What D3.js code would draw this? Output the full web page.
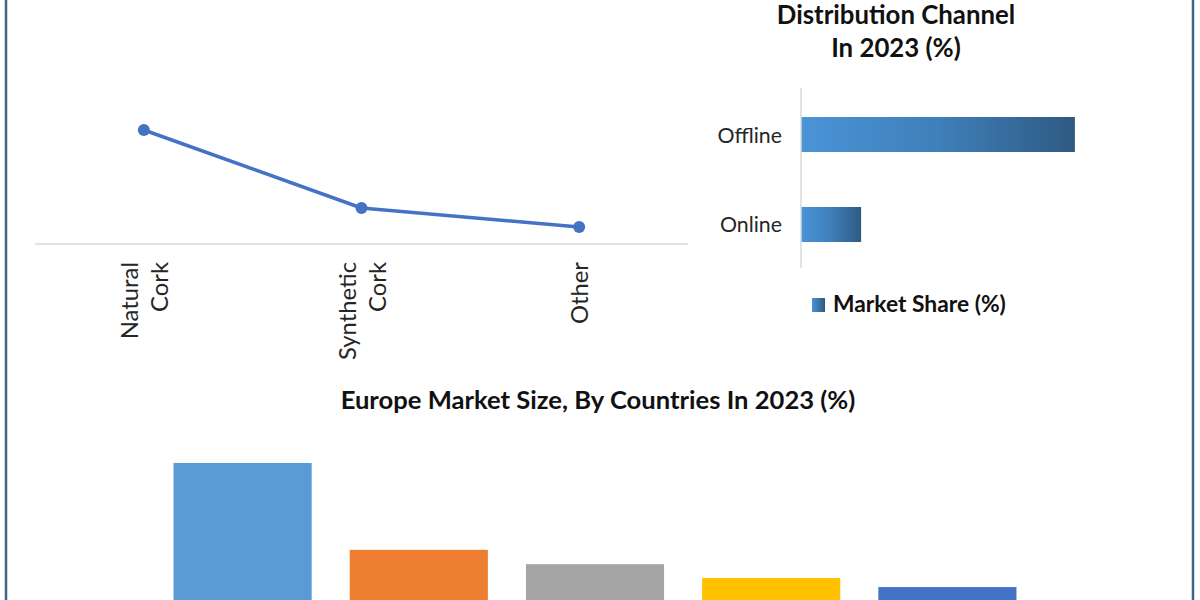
<!DOCTYPE html>
<html><head><meta charset="utf-8">
<script src="https://cdn.jsdelivr.net/npm/d3@7"></script>
<style>
html,body{margin:0;padding:0;background:#fff;overflow:hidden}
text{font-family:Lato,"Liberation Sans","DejaVu Sans",sans-serif}
</style></head><body>
<svg id="c" width="1200" height="600"></svg>
<script>
// ---- data ----
const corkTypes = ["Natural Cork", "Synthetic Cork", "Other"];
const corkValues = [57, 18, 8.5];

const channels = ["Offline", "Online"];
const channelShare = [82, 18];
const channelTitle = ["Distribution Channel", "In 2023 (%)"];
const channelLegend = "Market Share (%)";

const countries = ["Germany", "France", "UK", "Italy", "Spain"];
const countryShare = [35, 16.8, 13.8, 10.9, 9.0];
const countryColors = ["#5b9bd5", "#ed7d31", "#a5a5a5", "#ffc000", "#4472c4"];
const countryTitle = "Europe Market Size, By Countries In 2023 (%)";

const svg = d3.select("#c");

// frame
svg.append("rect").attr("x", 6).attr("y", -20).attr("width", 1187).attr("height", 660)
  .attr("fill", "none").attr("stroke", "#3b6888").attr("stroke-width", 2.5);

// ---- line chart ----
const lx = d3.scaleBand().domain(corkTypes).range([35, 688]);
const ly = d3.scaleLinear().domain([0, 60]).range([244, 124]);
const lg = svg.append("g");
lg.append("line").attr("x1", 35).attr("x2", 688).attr("y1", ly(0)).attr("y2", ly(0))
  .attr("stroke", "#d9d9d9").attr("stroke-width", 1.5);
const line = d3.line().x((d, i) => lx(corkTypes[i]) + lx.bandwidth() / 2).y(d => ly(d));
lg.append("path").datum(corkValues).attr("d", line).attr("fill", "none")
  .attr("stroke", "#4472c4").attr("stroke-width", 3.5).attr("stroke-linejoin", "round");
lg.selectAll("circle.pt").data(corkValues).join("circle")
  .attr("cx", (d, i) => lx(corkTypes[i]) + lx.bandwidth() / 2)
  .attr("cy", d => ly(d)).attr("r", 6).attr("fill", "#4472c4");
// rotated labels
corkTypes.forEach(c => {
  const words = c.split(" ");
  const cx = lx(c) + lx.bandwidth() / 2;
  const n = words.length;
  const t = lg.append("text")
    .attr("transform", `translate(${cx},262) rotate(-90)`)
    .attr("text-anchor", "end").attr("font-size", 23.8).attr("fill", "#262626");
  words.forEach((w, i) => {
    const off = (i - (n - 1) / 2) * 30 + 9;
    t.append("tspan").attr("x", 0).attr("y", off).text(w);
  });
});

// ---- horizontal bar chart ----
const hx = d3.scaleLinear().domain([0, 100]).range([801, 1135]);
const hy = d3.scaleBand().domain(channels).range([72, 287]).paddingInner(0.611).paddingOuter(0.5);
const defs = svg.append("defs");
const grad = defs.append("linearGradient").attr("id", "hg").attr("x1", "0").attr("x2", "1").attr("y1", "0").attr("y2", "0");
grad.append("stop").attr("offset", "0").attr("stop-color", "#4a94d6");
grad.append("stop").attr("offset", "0.5").attr("stop-color", "#3f7fba");
grad.append("stop").attr("offset", "1").attr("stop-color", "#2e5a82");
const hg = svg.append("g");
hg.append("text").attr("x", 896).attr("y", 24).attr("text-anchor", "middle")
  .attr("font-size", 25.8).attr("font-weight", "bold").attr("fill", "#111")
  .selectAll("tspan").data(channelTitle).join("tspan")
  .attr("x", 896).attr("dy", (d, i) => i ? 33 : 0).text(d => d);
hg.selectAll("rect.b").data(channelShare).join("rect")
  .attr("x", hx(0)).attr("y", (d, i) => hy(channels[i]))
  .attr("width", d => hx(d) - hx(0)).attr("height", hy.bandwidth())
  .attr("fill", "url(#hg)");
hg.append("line").attr("x1", 801).attr("x2", 801).attr("y1", 88).attr("y2", 268)
  .attr("stroke", "#d9d9d9").attr("stroke-width", 1.5);
hg.selectAll("text.lab").data(channels).join("text")
  .attr("x", 782).attr("y", d => hy(d) + hy.bandwidth() / 2 + 8)
  .attr("text-anchor", "end").attr("font-size", 21.3).attr("fill", "#262626").text(d => d);
const lgrad = defs.append("linearGradient").attr("id", "lgg").attr("x1", "0").attr("x2", "1");
lgrad.append("stop").attr("offset", "0").attr("stop-color", "#4a94d6");
lgrad.append("stop").attr("offset", "1").attr("stop-color", "#2e5a82");
hg.append("rect").attr("x", 812).attr("y", 298).attr("width", 13).attr("height", 14).attr("fill", "url(#lgg)");
hg.append("text").attr("x", 833).attr("y", 312).attr("font-size", 22.8).attr("font-weight", "bold")
  .attr("fill", "#111").text(channelLegend);

// ---- bottom bar chart ----
const bx = d3.scaleBand().domain(countries).range([154.5, 1035.5]).paddingInner(0.216).paddingOuter(0.108);
const by = d3.scaleLinear().domain([0, 35]).range([630, 463]);
const bg = svg.append("g");
bg.append("text").attr("x", 598).attr("y", 409).attr("text-anchor", "middle")
  .attr("font-size", 25.6).attr("font-weight", "bold").attr("fill", "#111").text(countryTitle);
bg.selectAll("rect").data(countryShare).join("rect")
  .attr("x", (d, i) => bx(countries[i])).attr("width", bx.bandwidth())
  .attr("y", d => by(d)).attr("height", d => by(0) - by(d))
  .attr("fill", (d, i) => countryColors[i]);
</script>
</body></html>
